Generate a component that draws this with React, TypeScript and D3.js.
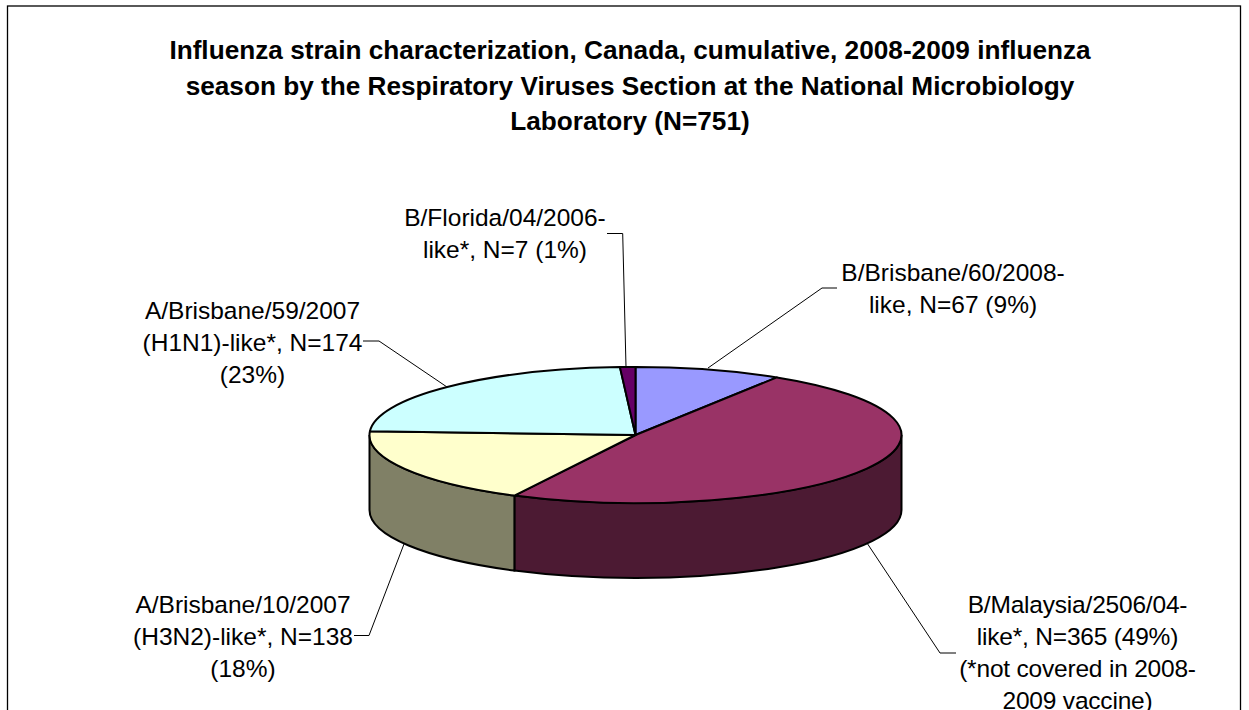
import React from "react";
import * as d3 from "d3";

const titleLines = [
  "Influenza strain characterization, Canada, cumulative, 2008-2009 influenza",
  "season by the Respiratory Viruses Section at the National Microbiology",
  "Laboratory (N=751)",
];
const strains = ["B/Brisbane/60/2008", "B/Malaysia/2506/04", "A/Brisbane/10/2007", "A/Brisbane/59/2007", "B/Florida/04/2006"];
const counts = [67, 365, 138, 174, 7];
const topColors = ["#9999FF", "#993366", "#FFFFCC", "#CCFFFF", "#660066"];
const wallColors = ["#4C4C80", "#4C1A33", "#808066", "#668080", "#330033"];
const labelLines = [
  ["B/Brisbane/60/2008-", "like, N=67 (9%)"],
  ["B/Malaysia/2506/04-", "like*, N=365 (49%)", "(*not covered in 2008-", "2009 vaccine)"],
  ["A/Brisbane/10/2007", "(H3N2)-like*, N=138", "(18%)"],
  ["A/Brisbane/59/2007", "(H1N1)-like*, N=174", "(23%)"],
  ["B/Florida/04/2006-", "like*, N=7 (1%)"],
];
const labelCenters: [number, number][] = [[953, 281], [1077.5, 612.5], [243, 612.5], [252.5, 318.5], [505, 226]];
const labelTracking = [0, -0.2, 0, 0, 0];
const leaders: [number, number][][] = [
  [[708, 368], [822, 288], [837, 288]],
  [[867, 543], [940, 653], [956, 653]],
  [[404, 544], [369, 635.5], [354, 635.5]],
  [[447, 387], [379, 341], [363, 341]],
  [[626, 367], [622.7, 233.5], [607, 233.5]],
];

const cx = 635.5, cy = 435, rx = 266, ry = 68, depth = 75;
const LINE = 32;

const pie = d3.pie<number>().sort(null).value((d) => d);
const arcs = pie(counts);
const px = (a: number) => cx + rx * Math.sin(a);
const py = (a: number) => cy - ry * Math.cos(a);

function wall(a0: number, a1: number) {
  const s = Math.max(a0, Math.PI / 2), e = Math.min(a1, (3 * Math.PI) / 2);
  if (s >= e) return null;
  return `M${px(s)},${py(s)}A${rx},${ry} 0 0 1 ${px(e)},${py(e)}L${px(e)},${py(e) + depth}A${rx},${ry} 0 0 0 ${px(s)},${py(s) + depth}Z`;
}
function top(a0: number, a1: number) {
  const large = a1 - a0 > Math.PI ? 1 : 0;
  return `M${cx},${cy}L${px(a0)},${py(a0)}A${rx},${ry} 0 ${large} 1 ${px(a1)},${py(a1)}Z`;
}
const line = d3.line();
const FONT = "'Liberation Sans', Arial, sans-serif";

export default function App() {
  return (
    <svg width={1249} height={710} style={{ position: "fixed", left: 0, top: 0, background: "#fff" }} fontFamily={FONT}>
      <rect x={7.5} y={6} width={1233} height={720} fill="#fff" stroke="#000" strokeWidth={1.3} />
      {titleLines.map((t, i) => (
        <text key={i} x={630} y={59 + i * 35.5} textAnchor="middle" fontSize={26.2} fontWeight="bold" fill="#000">{t}</text>
      ))}
      {leaders.map((p, i) => (
        <path key={i} d={line(p) ?? ""} fill="none" stroke="#000" strokeWidth={1} />
      ))}
      {arcs.map((a, i) => {
        const d = wall(a.startAngle, a.endAngle);
        return d ? <path key={i} d={d} fill={wallColors[i]} stroke="#000" strokeWidth={2} /> : null;
      })}
      {arcs.map((a, i) => (
        <path key={i} d={top(a.startAngle, a.endAngle)} fill={topColors[i]} stroke="#000" strokeWidth={2} strokeLinejoin="round">
          <title>{strains[i]}</title>
        </path>
      ))}
      {labelLines.map((lines, i) => (
        <text key={i} textAnchor="middle" fontSize={24.5} fill="#000" letterSpacing={labelTracking[i]}>
          {lines.map((l, j) => (
            <tspan key={j} x={labelCenters[i][0]} y={labelCenters[i][1] + j * LINE}>{l}</tspan>
          ))}
        </text>
      ))}
    </svg>
  );
}
